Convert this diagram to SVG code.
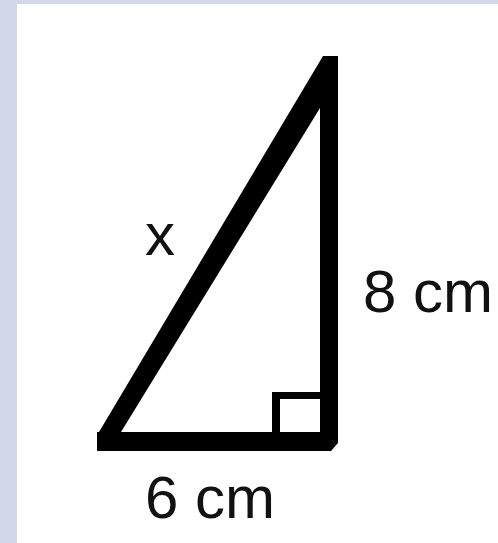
<svg xmlns="http://www.w3.org/2000/svg" width="498" height="543" viewBox="0 0 498 543">
  <style>
    .lbl { font-family: "Liberation Sans", Arial, sans-serif; font-size: 60px; fill: #111; }
    .ink { fill: #000; }
  </style>
  <rect x="0" y="0" width="498" height="543" fill="#d2d8e8"/>
  <rect x="17" y="4" width="481" height="539" fill="#ffffff"/>
  <g id="triangle">
    <path class="ink" fill-rule="evenodd" d="M97,432 L99,432 L323,56 L338,56 L338,443 L331,451 L97,451 Z M121,432 L320,108 L320,432 Z"/>
  </g>
  <g id="right-angle">
    <rect class="ink" x="272" y="392" width="8" height="40"/>
    <rect class="ink" x="272" y="392" width="48" height="7"/>
  </g>
  <g id="labels">
    <text class="lbl" x="145" y="255">x</text>
    <text class="lbl" x="363" y="312">8 cm</text>
    <text class="lbl" x="145" y="518">6 cm</text>
  </g>
</svg>
